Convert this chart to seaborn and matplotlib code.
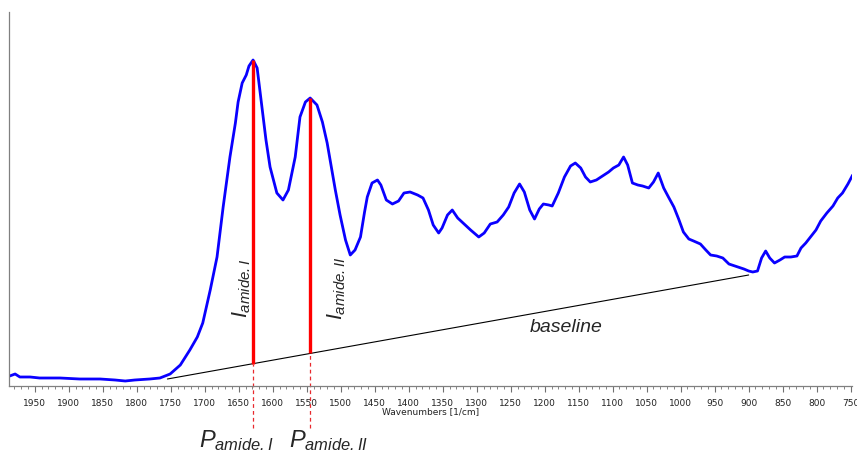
import numpy as np
import pandas as pd
import matplotlib
matplotlib.use("Agg")
import matplotlib.pyplot as plt
import seaborn as sns

# ---- data (wavenumber [1/cm], absorbance in arbitrary units) ----
wavenumber = [1987, 1979, 1972, 1957, 1943, 1913, 1884, 1854, 1832, 1817, 1803, 1781, 1766,
              1751, 1736, 1722, 1711, 1703, 1692, 1682, 1673, 1663, 1655, 1651, 1645, 1639,
              1635, 1629, 1623, 1616, 1610, 1604, 1594, 1585, 1577, 1571, 1567, 1560, 1552,
              1545, 1535, 1527, 1520, 1508, 1501, 1493, 1486, 1479, 1471, 1465, 1461, 1454,
              1446, 1441, 1433, 1424, 1415, 1407, 1398, 1387, 1379, 1371, 1364, 1356, 1351,
              1343, 1336, 1328, 1320, 1309, 1297, 1289, 1280, 1270, 1261, 1253, 1245, 1237,
              1230, 1222, 1215, 1208, 1202, 1194, 1189, 1180, 1171, 1162, 1155, 1147, 1140,
              1133, 1124, 1115, 1106, 1099, 1091, 1084, 1078, 1071, 1063, 1056, 1047, 1040,
              1033, 1025, 1018, 1010, 1003, 996, 988, 981, 971, 963, 956, 947, 938, 929, 916,
              907, 900, 894, 887, 881, 875, 869, 862, 854, 847, 838, 829, 823, 816, 809, 801,
              794, 785, 776, 769, 762, 754, 747]
absorbance = [10, 12, 9, 9, 8, 8, 7, 7, 6, 5, 6, 7, 8,
              12, 21, 36, 49, 63, 96, 129, 179, 229, 263, 284, 303, 311,
              320, 326, 318, 279, 246, 219, 193, 186, 196, 216, 229, 269, 284,
              288, 281, 264, 243, 196, 171, 146, 131, 136, 149, 174, 189, 203,
              206, 201, 186, 182, 185, 193, 194, 191, 188, 176, 161, 153, 158,
              171, 176, 168, 163, 156, 149, 153, 162, 164, 171, 179, 193, 202,
              194, 176, 167, 177, 182, 181, 180, 193, 209, 220, 223, 218, 209,
              204, 206, 210, 214, 218, 221, 229, 221, 203, 201, 200, 198, 204,
              213, 198, 189, 179, 167, 154, 147, 145, 142, 136, 131, 130, 128, 122, 119,
              117, 115, 114, 115, 128, 135, 128, 123, 126, 129, 129, 130, 138, 143, 149, 156,
              165, 173, 180, 188, 193, 202, 211]

# baseline end points (wavenumber, absorbance)
baseline_wn = [1755, 900]
baseline_abs = [7, 111]

# amide band peak positions
peak_names = ["amide.I", "amide.II"]
peak_wn = [1629, 1545]

x_ticks_major = list(range(1950, 749, -50))
x_ticks_minor = list(range(1980, 749, -10))

# ---- figure ----
sns.set_style("white")
plt.rcParams["font.family"] = ["DejaVu Sans"]
plt.rcParams["mathtext.fontset"] = "custom"
plt.rcParams["mathtext.it"] = "Liberation Sans:italic"
plt.rcParams["mathtext.rm"] = "Liberation Sans:italic"
plt.rcParams["mathtext.default"] = "it"

fig = plt.figure(figsize=(8.57, 4.54), dpi=100)
ax = fig.add_axes([9 / 857, 1 - 386 / 454, 843 / 857, 374 / 454])

df = pd.DataFrame({"wn": wavenumber, "A": absorbance})
sns.lineplot(data=df, x="wn", y="A", ax=ax, color="#0a00ff", linewidth=2.0,
             estimator=None, sort=False)

# baseline
sns.lineplot(x=baseline_wn, y=baseline_abs, ax=ax, color="black", linewidth=0.8,
             estimator=None, sort=False)

guide_bottom = -42  # how far the dashed guides extend below the axis
bl_slope = (baseline_abs[1] - baseline_abs[0]) / (baseline_wn[1] - baseline_wn[0])
for name, wn in zip(peak_names, peak_wn):
    top = float(np.interp(wn, wavenumber[::-1], absorbance[::-1]))
    base = baseline_abs[0] + bl_slope * (wn - baseline_wn[0])
    ax.plot([wn, wn], [base, top], color="#ff0000", linewidth=2.4, solid_capstyle="butt")
    ax.plot([wn, wn], [guide_bottom, base], color="#e8292e", linewidth=0.9,
            linestyle=(0, (3, 2.5)), clip_on=False)

# intensity labels (rotated)
ax.text(1645, 98, r"$I_{amide.I}$", rotation=90, fontsize=15.5, ha="center", va="center")
ax.text(1506, 98, r"$I_{amide.II}$", rotation=90, fontsize=15.5, ha="center", va="center")

# position labels below the axis
ax.text(1708, -55, r"$P_{amide.I}$", fontsize=17, ha="left", va="center", clip_on=False)
ax.text(1576, -55, r"$P_{amide.II}$", fontsize=17, ha="left", va="center", clip_on=False)

ax.text(1169, 59, "baseline", fontsize=14, style="italic", family="Liberation Sans",
        ha="center", va="center")

ax.set_xlim(1988, 748)
ax.set_ylim(0, 374)
ax.set_xticks(x_ticks_major)
ax.set_xticks(x_ticks_minor, minor=True)
ax.set_yticks([])
ax.tick_params(axis="x", which="major", direction="out", length=4, width=0.8,
               color="#707070", labelsize=6.5, labelcolor="#222222", pad=5, bottom=True)
ax.tick_params(axis="x", which="minor", direction="out", length=2.5, width=0.6,
               color="#707070", bottom=True)
ax.set_xlabel("Wavenumbers [1/cm]", fontsize=6.5, color="#222222", labelpad=0)
ax.set_ylabel("")
for s in ["top", "right"]:
    ax.spines[s].set_visible(False)
for s in ["left", "bottom"]:
    ax.spines[s].set_color("#808080")
    ax.spines[s].set_linewidth(0.9)

fig.savefig("out.png", dpi=100)
